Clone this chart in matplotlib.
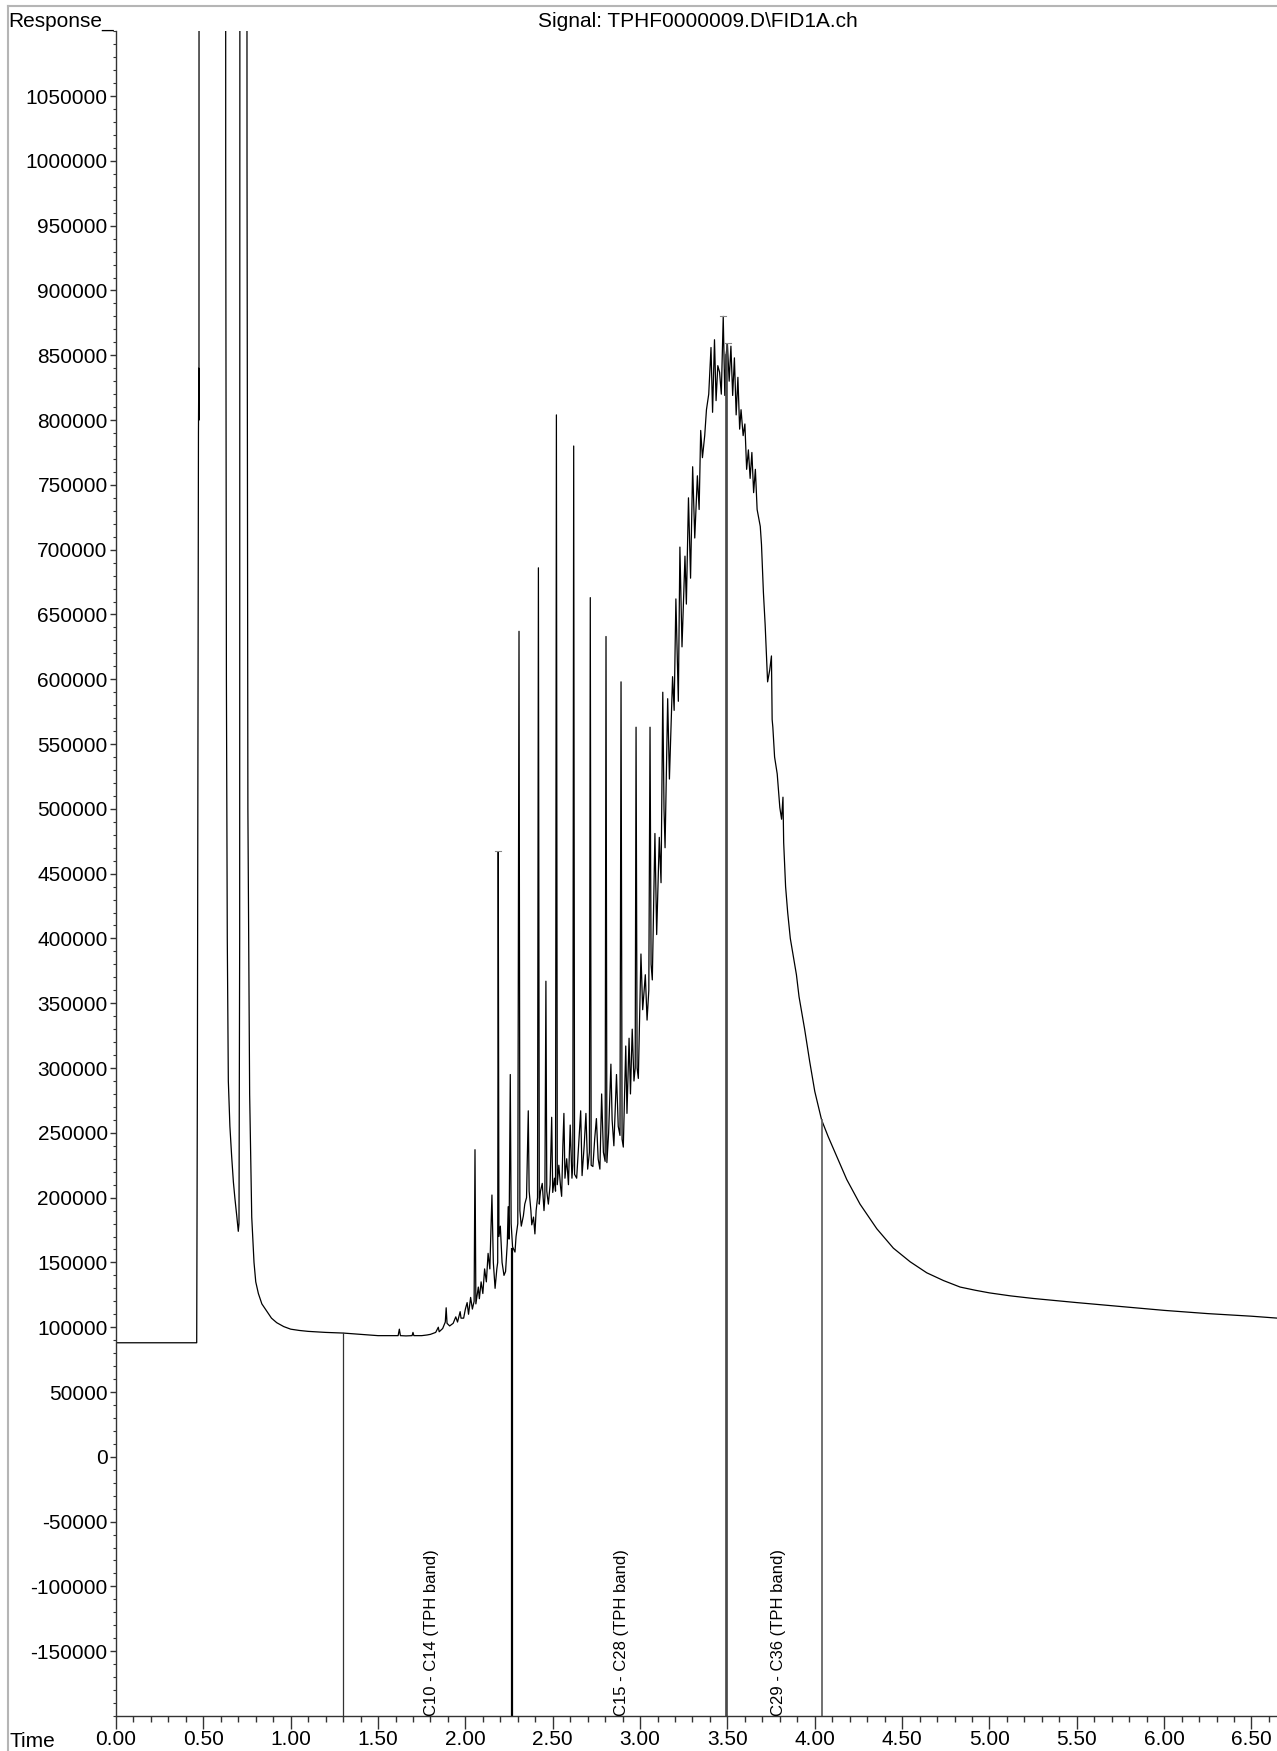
import numpy as np
import matplotlib
matplotlib.use('Agg')
import matplotlib.pyplot as plt
from matplotlib.lines import Line2D
from matplotlib.ticker import MultipleLocator, FormatStrFormatter, FuncFormatter

plt.rcParams['font.family'] = ['Liberation Sans', 'DejaVu Sans']

# chromatogram: time (min), response
time_pts = [0.00, 0.462, 0.466, 0.472, 0.474, 0.475, 0.477, 0.62, 0.626,
            0.628, 0.632, 0.637, 0.643, 0.652, 0.662, 0.672, 0.681, 0.692, 0.700,
            0.704, 0.708, 0.712, 0.745, 0.75, 0.755, 0.765, 0.777, 0.79, 0.80,
            0.815, 0.835, 0.86, 0.89, 0.92, 0.96, 1.00, 1.05, 1.10, 1.20, 1.30,
            1.35, 1.40, 1.45, 1.50, 1.55, 1.60, 1.615, 1.622, 1.628, 1.66, 1.695,
            1.70, 1.705, 1.75, 1.78, 1.80, 1.83, 1.845, 1.85, 1.87, 1.885, 1.89,
            1.895, 1.91, 1.93, 1.945, 1.955, 1.97, 1.975, 1.99,
            2.00, 2.01, 2.018, 2.03, 2.04, 2.05, 2.055, 2.06, 2.074, 2.08, 2.09,
            2.10, 2.11, 2.12, 2.13, 2.14, 2.152, 2.16, 2.17, 2.18, 2.185, 2.188,
            2.192, 2.20, 2.21, 2.221, 2.23, 2.24, 2.245, 2.25, 2.257, 2.262, 2.27,
            2.284, 2.29, 2.30, 2.307, 2.312, 2.32, 2.332, 2.34, 2.35, 2.36, 2.365,
            2.375, 2.38, 2.39, 2.398, 2.405, 2.413, 2.418, 2.423, 2.43, 2.44, 2.45,
            2.455, 2.461, 2.466, 2.475, 2.485, 2.494, 2.50, 2.51, 2.516, 2.521,
            2.526, 2.535, 2.545, 2.551, 2.558, 2.564, 2.57, 2.58, 2.59, 2.60, 2.61,
            2.615, 2.62, 2.625, 2.637, 2.648, 2.66, 2.668, 2.68, 2.69, 2.70, 2.71,
            2.715, 2.72, 2.73, 2.74, 2.75, 2.76, 2.77, 2.78, 2.79, 2.80, 2.805,
            2.81, 2.82, 2.833, 2.84, 2.85, 2.865, 2.875, 2.885, 2.891, 2.897,
            2.904, 2.918, 2.925, 2.937, 2.945, 2.955, 2.965, 2.972, 2.977, 2.983,
            2.99, 3.005, 3.015, 3.03, 3.04, 3.05, 3.057, 3.063, 3.07, 3.085, 3.095,
            3.11, 3.12, 3.13, 3.137, 3.143, 3.158, 3.168, 3.186, 3.195, 3.205,
            3.219, 3.228, 3.24, 3.257, 3.265, 3.277, 3.289, 3.301, 3.313, 3.328,
            3.338, 3.347, 3.357, 3.37, 3.38, 3.393, 3.406, 3.415, 3.426, 3.435,
            3.445, 3.455, 3.465, 3.476, 3.485, 3.492, 3.50, 3.51, 3.52, 3.53, 3.54,
            3.55, 3.56, 3.57, 3.578, 3.59, 3.60, 3.61, 3.62, 3.63, 3.64, 3.65,
            3.66, 3.67, 3.688, 3.695, 3.706, 3.716, 3.73, 3.742, 3.752, 3.756,
            3.76, 3.77, 3.785, 3.80, 3.81, 3.818, 3.822, 3.833, 3.845, 3.86, 3.875,
            3.895, 3.91, 3.942, 3.971, 4.00, 4.039, 4.077, 4.125, 4.183, 4.259,
            4.355, 4.45, 4.546, 4.641, 4.737, 4.832, 4.92, 5.00, 5.12, 5.25, 5.50,
            5.75, 6.00, 6.25, 6.50, 6.65]
resp_pts = [88000, 88000, 300000, 790000, 840000, 800000, 3000000, 3000000, 3000000,
            1000000, 600000, 400000, 290000, 255000, 232000, 212000, 199000, 185000, 174000,
            180000, 400000, 3000000, 3000000, 1000000, 500000, 280000, 185000, 150000, 135000,
            126000, 118000, 113000, 107000, 103500, 100500, 98500, 97500, 96800, 96000, 95500,
            95000, 94500, 94000, 93500, 93500, 93500, 93500, 98500, 93500, 93300, 93500,
            96000, 93500, 93500, 94000, 94500, 96000, 100000, 96500, 99000, 104000, 115000,
            103000, 101000, 103000, 108000, 104000, 112000, 107000, 107000,
            114000, 119000, 110000, 123000, 114000, 120000, 237000, 118000, 131000, 122000, 135000,
            126000, 145000, 135000, 157000, 145000, 202000, 150000, 130000, 145000, 150000, 467000,
            170000, 178000, 150000, 140000, 143000, 165000, 193000, 168000, 295000, 180000, 162000,
            158000, 170000, 180000, 637000, 190000, 178000, 186000, 195000, 200000, 267000, 205000,
            190000, 179000, 185000, 172000, 190000, 200000, 686000, 195000, 205000, 211000, 190000,
            200000, 367000, 205000, 195000, 210000, 262000, 204000, 215000, 205000, 804000,
            210000, 225000, 208000, 201000, 240000, 265000, 215000, 230000, 210000, 256000, 215000,
            225000, 780000, 218000, 215000, 240000, 267000, 217000, 240000, 265000, 222000, 235000,
            663000, 225000, 224000, 245000, 261000, 230000, 222000, 280000, 235000, 228000, 633000,
            227000, 250000, 303000, 260000, 240000, 295000, 255000, 248000, 598000, 245000,
            239000, 317000, 265000, 323000, 280000, 330000, 290000, 300000, 563000, 300000,
            292000, 388000, 345000, 372000, 337000, 360000, 563000, 380000, 368000, 481000, 403000,
            478000, 443000, 590000, 500000, 470000, 585000, 523000, 602000, 576000, 662000,
            583000, 702000, 625000, 695000, 658000, 740000, 678000, 764000, 709000, 757000,
            731000, 792000, 771000, 788000, 808000, 820000, 856000, 806000, 862000, 815000,
            842000, 837000, 820000, 880000, 819000, 850000, 859000, 830000, 857000, 819000, 848000,
            804000, 833000, 793000, 808000, 788000, 797000, 762000, 777000, 755000, 775000, 744000,
            762000, 731000, 718000, 704000, 667000, 642000, 598000, 607000, 618000, 569000,
            563000, 540000, 527000, 501000, 492000, 509000, 474000, 440000, 420000, 400000, 388000,
            372000, 355000, 330000, 305000, 282000, 260000, 247000, 232000, 214000, 195000,
            176000, 161000, 150500, 142000, 136000, 131000, 128500, 126500, 124200, 122200, 119000,
            116000, 113000, 110500, 108500, 107000]

# integration band borders and their heights on the trace
band_t = [1.30, 2.265, 3.492, 3.50, 4.039]
band_top = [95500, 160000, 850000, 859000, 260000]
band_lw = [0.9, 1.6, 1.2, 1.2, 1.3]
band_col = ['#333333', '#000000', '#444444', '#444444', '#666666']
band_names = ['C10 - C14 (TPH band)', 'C15 - C28 (TPH band)', 'C29 - C36 (TPH band)']
band_pos = [1.805, 2.893, 3.79]

# little apex marks
mark_t = [2.188, 3.476, 3.502]
mark_v = [467700, 880500, 859400]

yticks = list(range(-150000, 1050001, 50000))

fig = plt.figure(figsize=(12.77, 17.51), dpi=100)
ax = fig.add_axes([116 / 1277, 35 / 1751, 1 - 116 / 1277, (1716 - 31.3) / 1751])

ax.plot(time_pts, resp_pts, color='black', lw=0.9)
for t, top, lw, c in zip(band_t, band_top, band_lw, band_col):
    ax.plot([t, t], [-200000, top], color=c, lw=lw)
for name, x in zip(band_names, band_pos):
    ax.text(x, -200000, name, rotation=90, ha='center', va='bottom', fontsize=12)
for t, v in zip(mark_t, mark_v):
    ax.plot([t - 0.016, t + 0.016], [v, v], color='#888888', lw=0.8)

ax.set_xlim(0, 6.646)
ax.set_ylim(-200000, 1100000)
ax.set_yticks(yticks)
ax.yaxis.set_major_formatter(FuncFormatter(lambda v, p: '%d' % int(round(v))))
ax.yaxis.set_minor_locator(MultipleLocator(10000))
ax.xaxis.set_major_locator(MultipleLocator(0.5))
ax.xaxis.set_minor_locator(MultipleLocator(0.1))
ax.xaxis.set_major_formatter(FormatStrFormatter('%.2f'))
for s in ['top', 'right']:
    ax.spines[s].set_visible(False)
for s in ['left', 'bottom']:
    ax.spines[s].set_color('#333333')
    ax.spines[s].set_linewidth(1.0)
ax.tick_params(axis='x', which='major', length=9, width=1, labelsize=15, pad=1, color='#333333')
ax.tick_params(axis='x', which='minor', length=4, width=1, color='#333333')
ax.tick_params(axis='y', which='major', length=4, width=1, labelsize=15, pad=2, color='#333333')
ax.tick_params(axis='y', which='minor', length=2.5, width=0.8, color='#333333')

fig.text(8 / 1277, 1 - 27 / 1751, 'Response_', fontsize=15, ha='left', va='baseline')
fig.text(698 / 1277, 1 - 27 / 1751, 'Signal: TPHF0000009.D\\FID1A.ch', fontsize=15,
         ha='center', va='baseline')
fig.text(9 / 1277, 1 - 1747 / 1751, 'Time', fontsize=15, ha='left', va='baseline')

# grey page frame
fig.add_artist(Line2D([8 / 1277, 1], [1 - 6 / 1751, 1 - 6 / 1751], transform=fig.transFigure,
                      color='#b5b5b5', lw=1.5))
fig.add_artist(Line2D([8 / 1277, 8 / 1277], [0, 1 - 6 / 1751], transform=fig.transFigure,
                      color='#b5b5b5', lw=1.5))

fig.savefig('out.png', dpi=100)
